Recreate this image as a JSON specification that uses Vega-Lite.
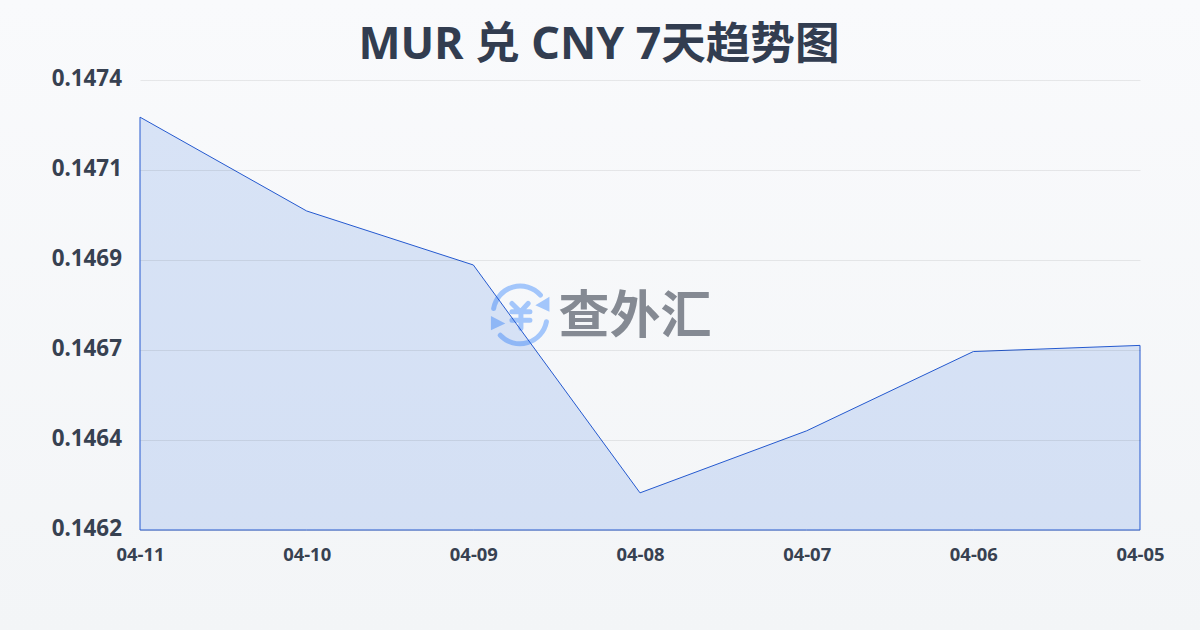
{"$schema":"https://vega.github.io/schema/vega-lite/v6.json","width":1000,"height":450,"autosize":"none","padding":{"left":140,"right":60,"top":80,"bottom":100},"background":"#f6f7f9","title":{"text":"MUR 兑 CNY 7天趋势图","font":"Noto Sans, Noto Sans CJK SC","fontSize":44.6,"fontWeight":700,"color":"#323d50","anchor":"middle","dx":-41,"dy":72.8,"zindex":1},"config":{"view":{"stroke":null}},"data":{"values":[{"date":"04-11","rate":0.147278},{"date":"04-10","rate":0.147033},{"date":"04-09","rate":0.146892},{"date":"04-08","rate":0.146297},{"date":"04-07","rate":0.146459},{"date":"04-06","rate":0.146666},{"date":"04-05","rate":0.146682}]},"encoding":{"x":{"field":"date","type":"ordinal","scale":{"type":"point","padding":0,"domain":["04-11","04-10","04-09","04-08","04-07","04-06","04-05"]},"axis":{"title":null,"grid":false,"domain":false,"ticks":false,"labelAngle":0,"labelFont":"Noto Sans","labelFontSize":18.4,"labelFontWeight":700,"labelColor":"#374151","labelPadding":15,"labelOverlap":false,"zindex":1}},"y":{"field":"rate","type":"quantitative","scale":{"domain":[0.1462,0.147375],"nice":false,"zero":false},"axis":{"title":null,"values":[0.1462,0.146435,0.14667,0.146905,0.14714,0.147375],"format":".4f","domain":false,"ticks":false,"gridColor":"#000000","gridOpacity":0.075,"gridWidth":1,"labelFont":"Noto Sans","labelFontSize":22.4,"labelFontWeight":700,"labelColor":"#374151","labelPadding":18.5,"labelOffset":-2,"zindex":1}}},"layer":[{"data":{"values":[{"date":"04-11","end":"04-05","top":0.147375,"bottom":0.1462}]},"mark":{"type":"rect","xOffset":-140,"x2Offset":60,"yOffset":-80,"y2Offset":100,"opacity":1,"color":{"gradient":"linear","x1":0,"y1":0,"x2":0,"y2":1,"stops":[{"offset":0,"color":"#f9fafc"},{"offset":1,"color":"#f3f5f7"}]}},"encoding":{"x":{"field":"date","type":"ordinal"},"x2":{"field":"end"},"y":{"field":"top","type":"quantitative"},"y2":{"field":"bottom"}}},{"data":{"values":[{"date":"04-08","rate":0.146761,"label":"查外汇"}]},"mark":{"type":"text","font":"Noto Sans CJK SC","fontSize":51,"fontWeight":700,"color":"#858a93","align":"center","baseline":"middle","dx":-5,"dy":3},"encoding":{"text":{"field":"label"}}},{"data":{"values":[{"date":"04-09","rate":0.146761}]},"mark":{"type":"point","shape":"M-0.89 -0.22A0.9 0.9 0 0 1 0.67 -0.67M0.87 0.22A0.9 0.9 0 0 1 -0.67 0.67M-0.28 -0.39L0 -0.11L0.26 -0.39M-0.28 -0.11H0.32M-0.28 0.17H0.32M0.02 -0.11V0.44","size":3600,"filled":false,"stroke":"#a3c6fb","strokeWidth":5,"strokeCap":"round","xOffset":47,"opacity":1}},{"data":{"values":[{"date":"04-09","rate":0.146761}]},"mark":{"type":"point","shape":"M0.97 -0.61L0.97 -0.11L0.5 -0.33ZM-0.98 0.03L-0.98 0.5L-0.5 0.28Z","size":3600,"filled":true,"fill":"#a3c6fb","opacity":1,"xOffset":47}},{"mark":{"type":"area","line":false,"fill":"#1f62dd","fillOpacity":0.15,"stroke":"#2459cf","strokeWidth":1},"encoding":{"y2":{"datum":0.1462}}}]}
